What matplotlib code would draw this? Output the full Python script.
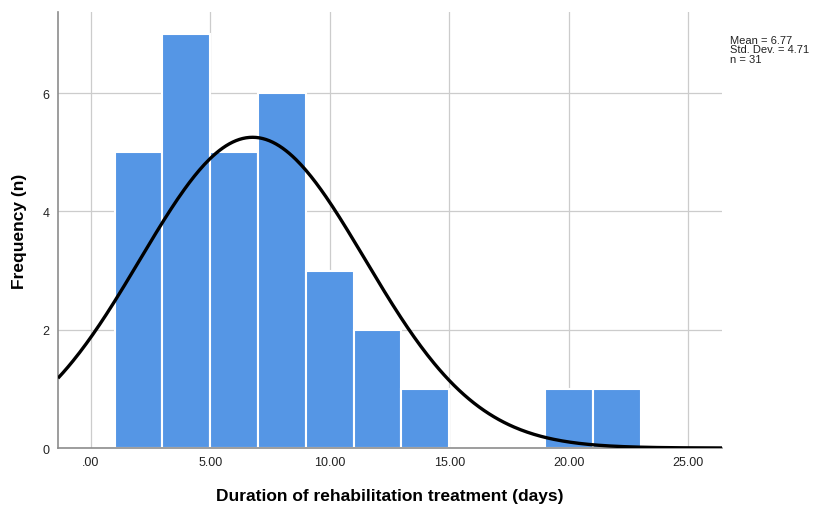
import numpy as np
import matplotlib

matplotlib.use("Agg")
import matplotlib.pyplot as plt

plt.rcParams["font.family"] = ["Liberation Sans", "DejaVu Sans"]

# histogram bins (width 2) and counts
bin_edges = [1, 3, 5, 7, 9, 11, 13, 15, 17, 19, 21, 23]
counts = [5, 7, 5, 6, 3, 2, 1, 0, 0, 1, 1]
mean = 6.77
std_dev = 4.71
n_cases = 31

x_ticks = [0, 5, 10, 15, 20, 25]
x_tick_labels = [".00", "5.00", "10.00", "15.00", "20.00", "25.00"]
y_ticks = [0, 2, 4, 6]

bar_color = "#5596e5"
grid_color = "#cccccc"

fig = plt.figure(figsize=(8.19, 5.10), dpi=100)
ax = fig.add_axes([0.0708, 0.1196, 0.8108, 0.855])

lefts = np.array(bin_edges[:-1], dtype=float)
widths = np.diff(bin_edges)
ax.bar(lefts, counts, width=widths, align="edge", color=bar_color,
       edgecolor="white", linewidth=1.5, zorder=2)

xlim = (-1.37, 26.41)
xs = np.linspace(xlim[0], xlim[1], 400)
bin_width = widths[0]
curve = n_cases * bin_width / (std_dev * np.sqrt(2 * np.pi)) * np.exp(-0.5 * ((xs - mean) / std_dev) ** 2)
ax.plot(xs, curve, color="black", linewidth=2.4, zorder=3, solid_capstyle="butt")

ax.set_xlim(*xlim)
ax.set_ylim(0, 7.37)
ax.set_xticks(x_ticks)
ax.set_xticklabels(x_tick_labels)
ax.set_yticks(y_ticks)
ax.grid(True, color=grid_color, linewidth=0.9, zorder=0)
ax.set_axisbelow(True)
ax.tick_params(length=0, labelsize=9, colors="#222222")
ax.tick_params(axis="x", pad=6)
ax.tick_params(axis="y", pad=6)

for side in ("top", "right"):
    ax.spines[side].set_visible(False)
for side in ("left", "bottom"):
    ax.spines[side].set_color("#8c8c8c")
    ax.spines[side].set_linewidth(1.2)

ax.set_xlabel("Duration of rehabilitation treatment (days)", fontsize=12.5,
              fontweight="bold", labelpad=14)
ax.set_ylabel("Frequency (n)", fontsize=12.5, fontweight="bold")
ax.yaxis.set_label_coords(-0.047, 0.5)

fig.text(0.891, 0.93, f"Mean = {mean:.2f}\nStd. Dev. = {std_dev:.2f}\nn = {n_cases}",
         fontsize=8, va="top", ha="left", linespacing=0.95, color="#222222")

fig.savefig("out.png", dpi=100)
